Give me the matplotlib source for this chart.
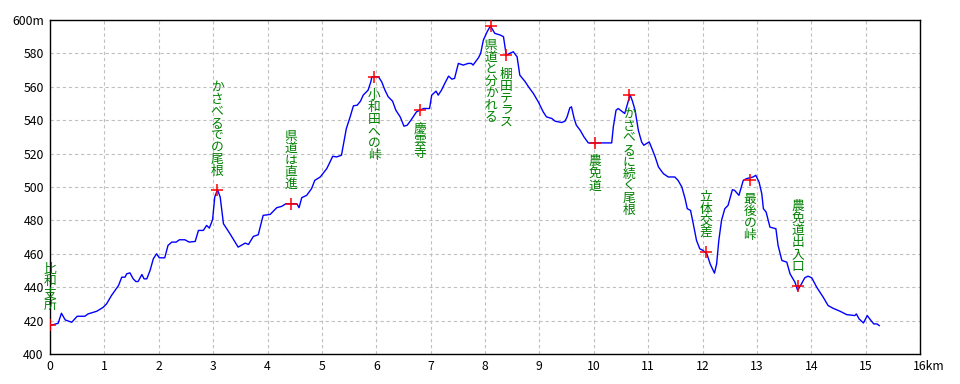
import matplotlib
matplotlib.use("Agg")
import matplotlib.pyplot as plt
from matplotlib.transforms import ScaledTranslation

plt.rcParams['font.family'] = ['Noto Sans CJK JP', 'DejaVu Sans']

# %% data: route elevation profile (km, m)
dist = [0.00, 0.15, 0.21, 0.28, 0.40, 0.50, 0.64, 0.70, 0.86, 0.98,
        1.04, 1.13, 1.26, 1.32, 1.38, 1.41, 1.47, 1.53, 1.58, 1.62,
        1.69, 1.73, 1.78, 1.84, 1.90, 1.96, 2.01, 2.11, 2.17, 2.24,
        2.32, 2.38, 2.48, 2.56, 2.67, 2.73, 2.82, 2.88, 2.93, 2.99,
        3.03, 3.08, 3.13, 3.19, 3.31, 3.46, 3.59, 3.65, 3.74, 3.83,
        3.92, 4.05, 4.17, 4.26, 4.34, 4.54, 4.58, 4.63, 4.72, 4.81,
        4.87, 4.97, 5.09, 5.20, 5.27, 5.36, 5.40, 5.45, 5.52, 5.58,
        5.65, 5.71, 5.76, 5.85, 5.90, 5.92, 6.04, 6.10, 6.16, 6.22,
        6.30, 6.36, 6.44, 6.51, 6.57, 6.65, 6.74, 6.87, 6.98, 7.02,
        7.10, 7.14, 7.20, 7.26, 7.33, 7.39, 7.44, 7.51, 7.60, 7.69,
        7.75, 7.78, 7.88, 7.92, 7.97, 8.04, 8.10, 8.18, 8.28, 8.34,
        8.39, 8.52, 8.59, 8.64, 8.74, 8.80, 8.89, 8.98, 9.07, 9.13,
        9.23, 9.29, 9.41, 9.47, 9.51, 9.56, 9.59, 9.64, 9.68, 9.75,
        9.82, 9.90, 10.33, 10.36, 10.41, 10.45, 10.57, 10.64, 10.67, 10.71,
        10.76, 10.82, 10.88, 10.92, 11.02, 11.07, 11.13, 11.19, 11.28, 11.37,
        11.49, 11.55, 11.62, 11.68, 11.72, 11.78, 11.83, 11.89, 11.95, 12.01,
        12.08, 12.14, 12.22, 12.26, 12.30, 12.35, 12.41, 12.47, 12.55, 12.59,
        12.67, 12.75, 12.81, 12.93, 12.98, 13.04, 13.09, 13.12, 13.17, 13.24,
        13.35, 13.39, 13.46, 13.55, 13.61, 13.70, 13.75, 13.82, 13.88, 13.94,
        14.01, 14.10, 14.22, 14.31, 14.40, 14.53, 14.65, 14.80, 14.83, 14.88,
        14.96, 15.03, 15.09, 15.15, 15.21, 15.25]
elev = [417, 418.4, 424.4, 420.4, 419, 422.6, 422.6, 424, 425.6, 428,
        430, 435, 441, 446, 446, 448, 448.6, 445, 443.4, 443.4,
        447.6, 445, 445, 450, 457, 460, 457.6, 457.6, 465, 467,
        467, 468.4, 468.4, 467, 467.4, 474, 474, 477, 475.4, 480.4,
        494, 498.4, 494, 478, 472, 464, 466.4, 465.6, 470.4, 471.4,
        483, 483.6, 487.6, 488.4, 490, 490, 487.6, 493.6, 495, 499,
        504, 506, 511, 518.4, 518, 519, 526, 535, 542, 548.6,
        549, 551.4, 555, 558, 563, 566, 566, 563, 558, 554,
        551.4, 546, 542, 536.4, 537, 540.6, 545, 547, 547, 555,
        557.4, 555, 558, 562, 566.4, 564.6, 565, 574, 573, 574,
        574, 573, 577.4, 580, 588, 593, 596.4, 592, 591, 590,
        579, 581, 578, 567, 563, 560, 556, 551, 545, 542,
        541, 539.4, 538.6, 539.4, 542, 547.4, 548, 541, 537, 534,
        530, 526.4, 526.4, 536, 546, 547, 544, 552, 555, 551.6,
        546, 534, 527, 525, 527, 523, 518, 512, 508, 506,
        506, 504, 500, 493, 487, 486, 478, 468, 463, 462,
        460, 454, 448.4, 454, 468, 480, 487, 489, 498.4, 498,
        495, 504, 505, 506, 507, 503, 496, 487, 485, 476,
        475, 465, 456, 455, 448, 443, 438, 442, 445.6, 446.6,
        445.6, 440, 434, 429, 427.4, 425.6, 423.6, 423, 424, 421,
        418.6, 423, 420.4, 418, 418, 417]

# waypoints
wp_dist = [0.0, 3.07, 4.43, 5.96, 6.80, 8.11, 8.39, 10.02, 10.65, 12.06, 12.87, 13.75]
wp_elev = [417.6, 498, 490, 566, 546, 596.4, 579, 526.4, 555, 461, 504, 441]
wp_name = ['比和支所', 'かさべるでの尾根', '県道は直進', '小和田への峠', '慶雲寺',
           '県道と分かれる', '棚田テラス', '農免道', 'かさべるに続く尾根',
           '立体交差', '最後の峠', '農免道出入口']
wp_above = [True, True, True, False, False, False, False, False, False,
            True, False, True]

x_ticks = list(range(0, 17))
x_labels = [str(v) for v in x_ticks[:-1]] + ['16km']
y_ticks = list(range(400, 601, 20))
y_labels = [str(v) for v in y_ticks[:-1]] + ['600m']

# %% plot
fig = plt.figure(figsize=(9.6, 3.84), dpi=100)
ax = fig.add_axes([50 / 960, 30 / 384, 870 / 960, 334 / 384])

ax.plot(dist, elev, color='#0000ff', lw=1.0, zorder=3)
ax.plot(wp_dist, wp_elev, '+', color='#ff0000', ms=9, mew=1.1, zorder=4)

px = 72 / 100  # pixels -> points
for x, y, name, above in zip(wp_dist, wp_elev, wp_name, wp_above):
    n = len(name)
    for i, ch in enumerate(name):
        if above:
            off = 19 + (n - 1 - i) * 12
        else:
            off = -(19 + i * 12)
        ax.annotate(ch, xy=(x, y), xytext=(0, off * px), textcoords='offset points',
                    ha='center', va='center', fontsize=9.2, color='#008000', zorder=5)

ax.set_xlim(0, 16)
ax.set_ylim(400, 600)
ax.set_xticks(x_ticks)
ax.set_xticklabels(x_labels)
ax.set_yticks(y_ticks)
ax.set_yticklabels(y_labels)
ax.tick_params(length=0, labelsize=8.8, pad=4.5)
lbl16 = ax.get_xticklabels()[-1]
lbl16.set_transform(lbl16.get_transform() + ScaledTranslation(6 / 72, 0, fig.dpi_scale_trans))

ax.grid(True, color='#c0c0c0', lw=0.8, linestyle=(0, (3, 2.5)))
ax.set_axisbelow(True)
for s in ax.spines.values():
    s.set_color('black')
    s.set_linewidth(1.0)

fig.savefig('out.png', dpi=100)
